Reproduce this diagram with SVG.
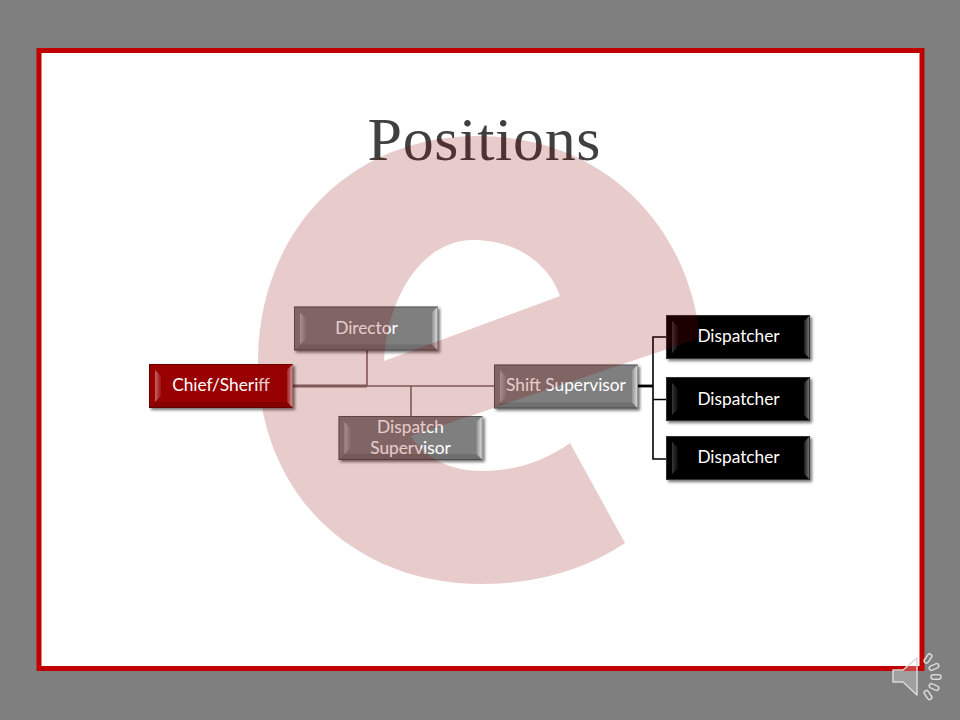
<svg xmlns="http://www.w3.org/2000/svg" width="960" height="720" viewBox="0 0 960 720">
<defs>
<style>
.lbl{font-family:"Lato","Carlito","Liberation Sans",sans-serif;font-size:17.3px;fill:#fff;text-anchor:middle}
.ttl{font-family:"Liberation Serif","Noto Serif",serif;font-size:62px;fill:#404040;text-anchor:middle}
.wire{fill:none;stroke:#000;stroke-width:1.6}
.wire2{fill:none;stroke:#000;stroke-width:2.8}
.gwire{fill:none;stroke:#7f6f6f;stroke-width:1.6}
.gwire2{fill:none;stroke:#7f6f6f;stroke-width:2.8}
.snd{fill:none;stroke:#d9d9d9;stroke-width:1.5}
.edge{fill:none;stroke:#000;stroke-opacity:.32;stroke-width:1}
</style>
<filter id="sh" x="-10%" y="-20%" width="120%" height="140%"><feDropShadow dx="2" dy="2" stdDeviation="1.5" flood-color="#000" flood-opacity=".55"/></filter>
<linearGradient id="gl"><stop offset="0" stop-color="#fff" stop-opacity=".4"/><stop offset="1" stop-color="#fff" stop-opacity=".05"/></linearGradient>
<linearGradient id="gr"><stop offset="0" stop-color="#fff" stop-opacity=".15"/><stop offset="1" stop-color="#fff" stop-opacity=".8"/></linearGradient>
<linearGradient id="grk"><stop offset="0" stop-color="#fff" stop-opacity=".1"/><stop offset="1" stop-color="#fff" stop-opacity=".5"/></linearGradient>
<linearGradient id="glk"><stop offset="0" stop-color="#fff" stop-opacity=".22"/><stop offset="1" stop-color="#fff" stop-opacity=".02"/></linearGradient>
<g id="bev">
<path fill="#000" opacity=".12" d="M0 44H144L138 38H12L6 38Z"/>
<path fill="url(#gl)" d="M6 6L12 12V32L6 38Z"/>
<path fill="url(#gr)" d="M144 0L138 6V38L144 44Z"/>
<rect class="edge" x=".5" y=".5" width="143" height="43"/>
</g>
<g id="bevk">
<path fill="url(#glk)" d="M6 6L12 12V32L6 38Z"/>
<path fill="url(#grk)" d="M144 0L138 6V38L144 44Z"/>
<rect x=".5" y=".5" width="143" height="43" fill="none" stroke="#333" stroke-width="1"/>
</g>
</defs>
<rect width="960" height="720" fill="#7f7f7f"/>
<rect x="39" y="50.500" width="883" height="618" fill="#fff" stroke="#c00000" stroke-width="5"/>
<text class="ttl" x="484" y="160" textLength="233" lengthAdjust="spacing">Positions</text>

<g id="connectors">
<path class="gwire2" d="M293 386H367"/>
<path class="gwire" d="M367 350V386M367 386H494M411 386V416"/>
<path class="wire2" d="M638 386H653"/>
<path class="wire" d="M666 337H653V459H666M653 399.500H666"/>
</g>

<g id="chief" filter="url(#sh)"><rect x="149" y="364" width="144" height="44" fill="#990000"/><use href="#bev" x="149" y="364"/></g>
<text class="lbl" x="221" y="391">Chief/Sheriff</text>
<g id="director" filter="url(#sh)"><rect x="294" y="306.500" width="144" height="44" fill="#7f7f7f"/><use href="#bev" x="294" y="306.500"/></g>
<text class="lbl" x="366.500" y="334">Director</text>
<g id="dispatch-supervisor" filter="url(#sh)"><rect x="338.500" y="416" width="144" height="44" fill="#7f7f7f"/><use href="#bev" x="338.500" y="416"/></g>
<text class="lbl" x="410.500" y="433">Dispatch</text>
<text class="lbl" x="410.500" y="454">Supervisor</text>
<g id="shift-supervisor" filter="url(#sh)"><rect x="494" y="364.500" width="144" height="44" fill="#7f7f7f"/><use href="#bev" x="494" y="364.500"/></g>
<text class="lbl" x="566" y="391">Shift Supervisor</text>
<g id="dispatcher-1" filter="url(#sh)"><rect x="666" y="315" width="144" height="44" fill="#000"/><use href="#bevk" x="666" y="315"/></g>
<text class="lbl" x="738.500" y="342">Dispatcher</text>
<g id="dispatcher-2" filter="url(#sh)"><rect x="666" y="377" width="144" height="44" fill="#000"/><use href="#bevk" x="666" y="377"/></g>
<text class="lbl" x="738.500" y="405">Dispatcher</text>
<g id="dispatcher-3" filter="url(#sh)"><rect x="666" y="436" width="144" height="44" fill="#000"/><use href="#bevk" x="666" y="436"/></g>
<text class="lbl" x="738.500" y="463">Dispatcher</text>

<path id="logo-e" fill="#8c0000" fill-opacity=".2" fill-rule="evenodd" d="M700 338 L411 436 C424 458 450 471 483 471 C515 471 545 461 570 443 L625 543 C585 570 535 584 482 584 C350 584 258 490 258 362 C258 232 350 136 478 136 C600 136 688 222 700 338 Z M384 361 L560 296 C548 262 515 240 473 240 C425 240 388 292 384 361 Z"/>

<g id="speaker">
<path d="M893 670 H903 L917 658 V695 L903 682 H893 Z" fill="#fff" fill-opacity=".25" stroke="#d9d9d9" stroke-width="1.500" stroke-linejoin="round"/>
<g class="snd">
<rect x="-5" y="-2.200" width="10" height="4.400" rx="2.200" transform="translate(928 658.500) rotate(-55)"/>
<rect x="-5" y="-2.200" width="10" height="4.400" rx="2.200" transform="translate(934 667) rotate(-25)"/>
<rect x="-5" y="-2.200" width="10" height="4.400" rx="2.200" transform="translate(936 677) rotate(0)"/>
<rect x="-5" y="-2.200" width="10" height="4.400" rx="2.200" transform="translate(934 687) rotate(25)"/>
<rect x="-5" y="-2.200" width="10" height="4.400" rx="2.200" transform="translate(928 695) rotate(55)"/>
</g>
</g>
</svg>
